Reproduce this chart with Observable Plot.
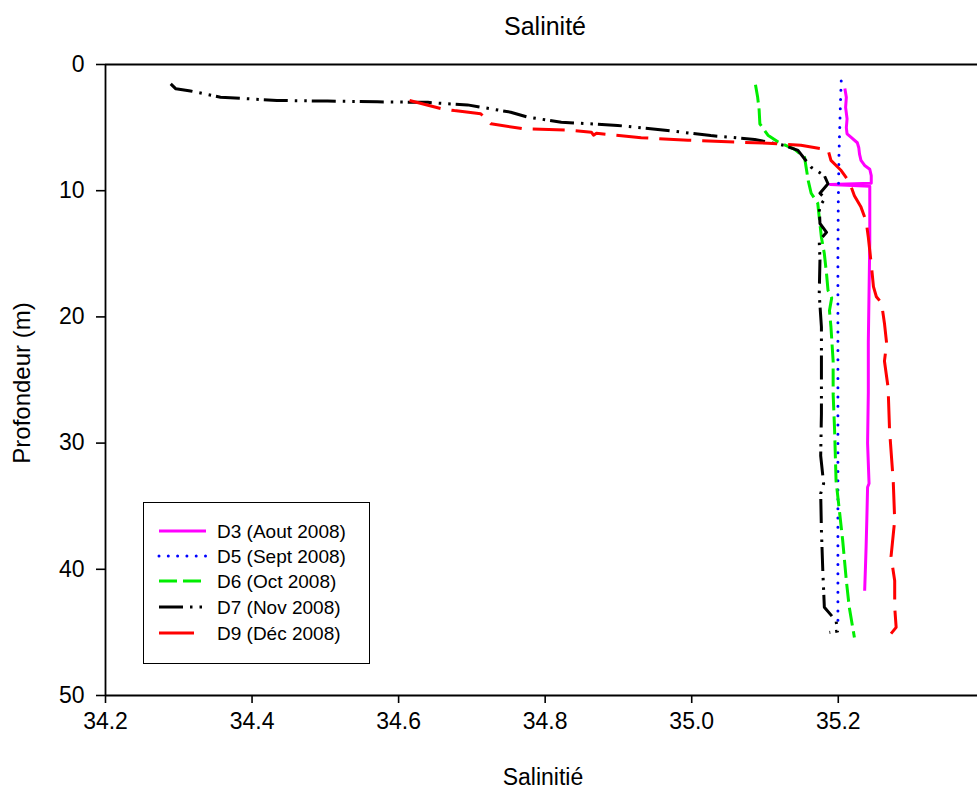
<!DOCTYPE html>
<html><head><meta charset="utf-8">
<script src="https://cdn.jsdelivr.net/npm/d3@7"></script>
<script src="https://cdn.jsdelivr.net/npm/@observablehq/plot@0.6"></script>
<style>
body{margin:0;background:#fff;}
#wrap{position:relative;width:977px;height:796px;overflow:hidden;font-family:"Liberation Sans",Arial,Helvetica,sans-serif;color:#000;}
.lbl{position:absolute;white-space:nowrap;line-height:1;}
#legend{position:absolute;left:143px;top:502px;width:227px;height:162px;box-sizing:border-box;border:1.5px solid #000;background:#fff;}
</style></head><body><div id="wrap"></div>
<script>
// ---- data ----
const seriesLabels = ["D3 (Aout 2008)", "D5 (Sept 2008)", "D6 (Oct 2008)", "D7 (Nov 2008)", "D9 (Déc 2008)"];
const xTicks = [34.2, 34.4, 34.6, 34.8, 35.0, 35.2];
const yTicks = [0, 10, 20, 30, 40, 50];

const d3Depth = [1.9, 2.6, 3.4, 4.3, 5.0, 5.5, 5.8, 6.2, 6.6, 7.1, 7.6, 8.0, 8.3, 8.8, 9.4, 9.5, 9.65, 11, 14, 18, 22, 26, 30, 33.2, 33.5, 36, 38.2, 40, 41.7];
const d3Sal   = [35.209, 35.211, 35.210, 35.212, 35.211, 35.212, 35.218, 35.226, 35.228, 35.229, 35.231, 35.236, 35.243, 35.245, 35.245, 35.189, 35.243, 35.243, 35.243, 35.242, 35.241, 35.241, 35.240, 35.242, 35.240, 35.239, 35.238, 35.237, 35.236];

const d5Depth = [1.3, 3, 5, 7, 9, 11, 15, 20, 25, 30, 35, 40, 44.7];
const d5Sal   = [35.204, 35.203, 35.202, 35.201, 35.2005, 35.200, 35.1995, 35.1995, 35.1995, 35.1995, 35.1995, 35.1995, 35.1995];

const d6Depth = [1.6, 2.6, 3.6, 4.7, 5.6, 6.15, 6.7, 7.35, 8.1, 9.2, 10.2, 11.0, 12.1, 13.7, 15.0, 16.6, 17.9, 18.5, 19.5, 20.8, 23.5, 26.1, 29, 33, 35.6, 37.7, 40.9, 43, 45.4];
const d6Sal   = [35.087, 35.090, 35.092, 35.093, 35.104, 35.118, 35.140, 35.154, 35.156, 35.159, 35.163, 35.172, 35.174, 35.177, 35.181, 35.184, 35.186, 35.191, 35.188, 35.190, 35.193, 35.193, 35.195, 35.197, 35.202, 35.206, 35.211, 35.215, 35.222];

const d7Depth = [1.53, 1.93, 2.1, 2.59, 2.85, 2.9, 2.96, 3.0, 3.04, 3.2, 3.78, 4.17, 4.57, 4.83, 5.23, 5.63, 5.94, 6.42, 6.81, 8.14, 8.8, 9.45, 10.2, 10.6, 11.3, 12.6, 13.3, 13.95, 15.5, 18.2, 20.8, 24, 27.7, 31, 33.2, 34, 36.9, 40.3, 43.0, 44.1, 44.9, 45.0];
const d7Sal   = [34.289, 34.296, 34.316, 34.357, 34.434, 34.503, 34.571, 34.640, 34.648, 34.694, 34.753, 34.776, 34.822, 34.899, 34.967, 35.026, 35.086, 35.127, 35.145, 35.163, 35.181, 35.186, 35.175, 35.182, 35.174, 35.175, 35.184, 35.174, 35.175, 35.174, 35.177, 35.177, 35.177, 35.176, 35.180, 35.176, 35.177, 35.179, 35.181, 35.197, 35.199, 35.188];

const d9Depth = [2.85, 3.5, 3.65, 3.9, 4.7, 5.1, 5.2, 5.36, 5.6, 5.45, 5.8, 6.0, 6.15, 6.24, 6.4, 6.76, 7.6, 8.4, 9.3, 10.4, 11.3, 12.4, 13.7, 15.8, 17.6, 18.4, 18.9, 20.5, 22.1, 23.5, 25.6, 29, 33, 36.1, 39, 40.9, 43, 44.6, 45.1];
const d9Sal   = [34.615, 34.658, 34.676, 34.712, 34.726, 34.771, 34.831, 34.863, 34.866, 34.870, 34.931, 34.995, 35.058, 35.104, 35.149, 35.186, 35.190, 35.204, 35.215, 35.222, 35.231, 35.238, 35.241, 35.245, 35.248, 35.252, 35.259, 35.263, 35.266, 35.263, 35.268, 35.270, 35.275, 35.277, 35.272, 35.277, 35.277, 35.279, 35.272];

// ---- styles ----
const styles = [
  {color: "#ff00ff", dash: null, cap: "butt"},
  {color: "#0000ff", dash: "0 9.3", cap: "round"},
  {color: "#00ee00", dash: "18 6", cap: "butt"},
  {color: "#000000", dash: "24 7 2.5 7 2.5 5", cap: "butt"},
  {color: "#ff0000", dash: "32 11", cap: "butt"}
];
const depths = [d3Depth, d5Depth, d6Depth, d7Depth, d9Depth];
const sals = [d3Sal, d5Sal, d6Sal, d7Sal, d9Sal];

const tables = seriesLabels.map((name, k) => sals[k].map((v, i) => ({series: name, sal: v, depth: depths[k][i]})));

const FONT = '"Liberation Sans", Arial, Helvetica, sans-serif';
const wrap = document.getElementById("wrap");

const chart = Plot.plot({
  width: 977, height: 796,
  marginTop: 64, marginBottom: 101, marginLeft: 105, marginRight: 0,
  style: {fontFamily: FONT, fontSize: "23px", color: "#000", background: "#fff"},
  x: {domain: [34.2, 35.39], label: null},
  y: {domain: [0, 50], reverse: true, label: null},
  marks: [
    Plot.axisX({ticks: xTicks, tickSize: 8, tickPadding: 9, tickFormat: d3.format(".1f"), label: null, strokeWidth: 1.6}),
    Plot.axisY({ticks: yTicks, tickSize: 9, tickPadding: 12, tickFormat: d3.format("d"), label: null, strokeWidth: 1.6}),
    Plot.ruleY([0, 50], {stroke: "#000", strokeWidth: 1.8}),
    Plot.ruleX([34.2], {stroke: "#000", strokeWidth: 1.8}),
    ...tables.map((t, k) => Plot.line(t, {
      x: "sal", y: "depth", stroke: styles[k].color, strokeWidth: 3,
      strokeDasharray: styles[k].dash || undefined, strokeLinecap: styles[k].cap, strokeLinejoin: "round"
    }))
  ]
});
chart.style.position = "absolute";
chart.style.left = "0px";
chart.style.top = "0px";
wrap.appendChild(chart);

// ---- titles ----
function label(text, css) {
  const d = document.createElement("div");
  d.className = "lbl";
  d.textContent = text;
  Object.assign(d.style, css);
  wrap.appendChild(d);
  return d;
}
label("Salinité", {left: "545px", top: "14px", fontSize: "25px", transform: "translateX(-50%)"});
label("Salinitié", {left: "543px", top: "766px", fontSize: "23px", transform: "translateX(-50%)"});
label("Profondeur (m)", {left: "22px", top: "383px", fontSize: "24px", transform: "translate(-50%,-50%) rotate(-90deg)"});

// ---- legend ----
const leg = document.createElement("div");
leg.id = "legend";
wrap.appendChild(leg);
const svg = d3.select(leg).append("svg").attr("width", 224).attr("height", 159)
  .style("position", "absolute").style("left", "0px").style("top", "0px");
const rowY = [28, 53, 78, 104, 130];
const sampleEnd = [62, 62, 62, 62, 50];
seriesLabels.forEach((name, k) => {
  svg.append("line").attr("x1", 15).attr("x2", sampleEnd[k]).attr("y1", rowY[k]).attr("y2", rowY[k])
    .attr("stroke", styles[k].color).attr("stroke-width", 3)
    .attr("stroke-dasharray", k === 4 ? null : styles[k].dash)
    .attr("stroke-linecap", styles[k].cap);
  svg.append("text").attr("x", 73).attr("y", rowY[k]).attr("dy", "0.36em")
    .attr("font-family", FONT).attr("font-size", 19).attr("fill", "#000").text(name);
});
</script>
</body></html>
